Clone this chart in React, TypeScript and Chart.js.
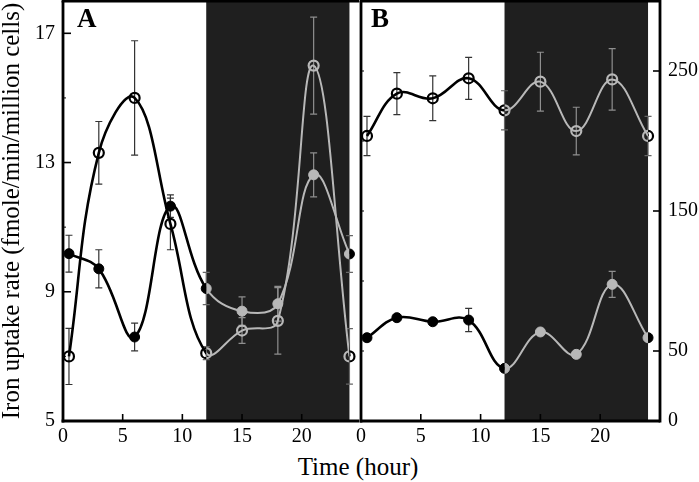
import React, { useEffect, useRef } from 'react';
import { Chart, registerables } from 'chart.js';

Chart.register(...registerables);

const HOURS = [0.5, 3, 6, 9, 12, 15, 18, 21, 24];
const A_OPEN = [7.0, 13.3, 15.0, 11.1, 7.1, 7.8, 8.1, 16.0, 7.0];
const A_OPEN_ERR = [0.87, 0.97, 1.77, 0.8, 0.2, 0.4, 1.03, 1.5, 0.86];
const A_FILLED = [10.18, 9.71, 7.6, 11.65, 9.1, 8.4, 8.63, 12.62, 10.17];
const A_FILLED_ERR = [0.57, 0.59, 0.43, 0.35, 0.5, 0.44, 0.54, 0.68, 0.57];
const B_OPEN = [203.6, 233.8, 230.5, 244.8, 221.9, 242.4, 207.1, 244.0, 203.6];
const B_OPEN_ERR = [14, 15, 16, 15, 14, 21, 17, 22, 14];
const B_FILLED = [59.5, 73.8, 70.9, 72.1, 37.6, 63.6, 47.6, 97.6, 59.5];
const B_FILLED_ERR = [2, 2, 2, 8.3, 2, 2, 2, 9.3, 2];
const X_TICKS = [0, 5, 10, 15, 20];
const A_Y_TICKS = [5, 9, 13, 17];
const A_Y_MINOR = [7, 11, 15];
const B_Y_TICKS = [0, 50, 150, 250];
const B_Y_MINOR = [50, 100, 150, 200, 250];
const DARK_START = 12;
const DARK_END = 24;

const FONT = 'Liberation Serif';
const GRAY = '#b8b8b8';

function makeSeries(values: number[], errs: number[], open: boolean) {
  const mk = () => HOURS.map((h, i) => ({ x: h, y: values[i] }));
  const common = {
    tension: 0.4,
    pointRadius: 5,
    pointHoverRadius: 5,
    clip: false,
    pointBorderWidth: open ? 2.2 : 1,
    fill: false,
  };
  return [
    {
      ...common,
      data: mk(),
      region: 'light',
      errors: errs,
      borderColor: '#000',
      borderWidth: 2.6,
      pointBorderColor: '#000',
      pointBackgroundColor: open ? 'rgba(0,0,0,0)' : '#000',
    },
    {
      ...common,
      data: mk(),
      region: 'dark',
      borderColor: GRAY,
      borderWidth: 2,
      pointBorderColor: GRAY,
      pointBackgroundColor: open ? 'rgba(0,0,0,0)' : GRAY,
    },
  ];
}

const backdropPlugin = {
  id: 'backdrop',
  beforeDatasetsDraw(chart: any) {
    const { ctx, chartArea: ca, scales } = chart;
    const x = scales.x;
    const y = scales.y;
    const x1 = x.getPixelForValue(DARK_START);
    const x2 = x.getPixelForValue(DARK_END);
    ctx.save();
    ctx.fillStyle = '#1f1f1f';
    ctx.fillRect(x1, ca.top, x2 - x1, ca.bottom - ca.top);
    chart.data.datasets.forEach((ds: any) => {
      if (!ds.errors) return;
      ds.data.forEach((pt: any, i: number) => {
        const e = ds.errors[i];
        const px = x.getPixelForValue(pt.x);
        const pt1 = y.getPixelForValue(pt.y + e);
        const pb = y.getPixelForValue(pt.y - e);
        const inDark = pt.x > DARK_START && pt.x < DARK_END;
        const edge = pt.x === DARK_START || pt.x === DARK_END;
        ctx.strokeStyle = inDark ? '#8f8f8f' : edge ? '#666' : '#333';
        ctx.lineWidth = 1.2;
        ctx.beginPath();
        ctx.moveTo(px, pt1);
        ctx.lineTo(px, pb);
        ctx.moveTo(px - 3.5, pt1);
        ctx.lineTo(px + 3.5, pt1);
        ctx.moveTo(px - 3.5, pb);
        ctx.lineTo(px + 3.5, pb);
        ctx.stroke();
      });
    });
    ctx.restore();
  },
};

const regionClipPlugin = {
  id: 'regionClip',
  beforeDatasetDraw(chart: any, args: any) {
    const ds = chart.data.datasets[args.index];
    const { ctx, chartArea: ca, scales } = chart;
    const x = scales.x;
    const x1 = x.getPixelForValue(DARK_START);
    const x2 = x.getPixelForValue(DARK_END);
    const t = ca.top - 12;
    const h = ca.bottom - ca.top + 24;
    ctx.save();
    ctx.beginPath();
    if (ds.region === 'dark') {
      ctx.rect(x1, t, x2 - x1, h);
    } else {
      ctx.rect(ca.left - 12, t, x1 - ca.left + 12, h);
      ctx.rect(x2, t, ca.right + 12 - x2, h);
    }
    ctx.clip();
  },
  afterDatasetDraw(chart: any) {
    chart.ctx.restore();
  },
};

function framePlugin(cfg: any) {
  return {
    id: 'frame',
    afterDatasetsDraw(chart: any) {
      const { ctx, chartArea: ca, scales } = chart;
      const x = scales.x;
      const y = scales.y;
      const line = (a: number, b: number, c: number, d: number) => {
        ctx.beginPath();
        ctx.moveTo(a, b);
        ctx.lineTo(c, d);
        ctx.stroke();
      };
      ctx.save();
      ctx.strokeStyle = '#000';
      ctx.lineWidth = 1.6;
      X_TICKS.forEach((v) => {
        const px = x.getPixelForValue(v);
        line(px, ca.bottom, px, ca.bottom - 7);
      });
      cfg.yMajor.forEach((v: number) => {
        const py = y.getPixelForValue(v);
        if (cfg.majorSide === 'left') line(ca.left, py, ca.left + 8, py);
        else line(ca.right, py, ca.right - 7, py);
      });
      ctx.lineWidth = 1;
      cfg.yMinor.forEach((v: number) => {
        const py = y.getPixelForValue(v);
        line(ca.left, py, ca.left + 3, py);
      });
      ctx.lineWidth = 2.8;
      line(ca.left, ca.top, ca.left, ca.bottom + 1.4);
      line(ca.left - 1.4, ca.bottom, ca.right, ca.bottom);
      line(ca.left - 1.4, ca.top, ca.right, ca.top);
      if (cfg.right) line(ca.right, ca.top - 1.4, ca.right, ca.bottom + 1.4);
      ctx.restore();
    },
  };
}

const tickFont = { family: FONT, size: 20 };

function xScale(max: number) {
  return {
    type: 'linear',
    min: 0,
    max,
    grid: { display: false, drawTicks: false },
    border: { display: false },
    afterBuildTicks: (s: any) => {
      s.ticks = X_TICKS.map((v) => ({ value: v }));
    },
    afterFit: (s: any) => {
      s.height = 29;
      s.paddingLeft = 0;
      s.paddingRight = 0;
    },
    ticks: { font: tickFont, color: '#000', padding: 4, maxRotation: 0, autoSkip: false },
  };
}

function yFit(width: number) {
  return (s: any) => {
    s.width = width;
    s.paddingTop = 0;
    s.paddingBottom = 0;
  };
}

export default function App() {
  const refA = useRef<HTMLCanvasElement | null>(null);
  const refB = useRef<HTMLCanvasElement | null>(null);

  useEffect(() => {
    const chartA = new Chart(refA.current as any, {
      type: 'line',
      data: {
        datasets: [...makeSeries(A_OPEN, A_OPEN_ERR, true), ...makeSeries(A_FILLED, A_FILLED_ERR, false)] as any,
      },
      options: {
        animation: false,
        responsive: true,
        maintainAspectRatio: false,
        events: [],
        layout: { autoPadding: false, padding: { top: 1, right: 1, left: 0, bottom: 0 } },
        plugins: { legend: { display: false }, tooltip: { enabled: false } },
        scales: {
          x: xScale(24.8) as any,
          y: {
            type: 'linear',
            min: 5,
            max: 18,
            grid: { display: false, drawTicks: false },
            border: { display: false },
            afterBuildTicks: (s: any) => {
              s.ticks = A_Y_TICKS.map((v) => ({ value: v }));
            },
            afterFit: yFit(63),
            ticks: { font: tickFont, color: '#000', padding: 8 },
            title: {
              display: true,
              text: 'Iron uptake rate (fmole/min/million cells)',
              font: { family: FONT, size: 25, lineHeight: 1 },
              color: '#000',
              padding: 0,
            },
          } as any,
        },
      },
      plugins: [backdropPlugin, regionClipPlugin, framePlugin({ yMajor: A_Y_TICKS, yMinor: A_Y_MINOR, majorSide: 'left', right: false })],
    } as any);

    const chartB = new Chart(refB.current as any, {
      type: 'line',
      data: {
        datasets: [...makeSeries(B_OPEN, B_OPEN_ERR, true), ...makeSeries(B_FILLED, B_FILLED_ERR, false)] as any,
      },
      options: {
        animation: false,
        responsive: true,
        maintainAspectRatio: false,
        events: [],
        layout: { autoPadding: false, padding: { top: 1, right: 0, left: 11, bottom: 0 } },
        plugins: { legend: { display: false }, tooltip: { enabled: false } },
        scales: {
          x: xScale(25) as any,
          y: {
            type: 'linear',
            position: 'right',
            min: 0,
            max: 300,
            grid: { display: false, drawTicks: false },
            border: { display: false },
            afterBuildTicks: (s: any) => {
              s.ticks = B_Y_TICKS.map((v) => ({ value: v }));
            },
            afterFit: yFit(39),
            ticks: { font: tickFont, color: '#000', padding: 8 },
          } as any,
        },
      },
      plugins: [backdropPlugin, regionClipPlugin, framePlugin({ yMajor: B_Y_TICKS, yMinor: B_Y_MINOR, majorSide: 'right', right: true })],
    } as any);

    return () => {
      chartA.destroy();
      chartB.destroy();
    };
  }, []);

  const label: React.CSSProperties = {
    position: 'absolute',
    fontFamily: `"${FONT}", serif`,
    fontWeight: 'bold',
    fontSize: 27,
    lineHeight: '27px',
    color: '#000',
  };

  return (
    <div style={{ position: 'fixed', left: 0, top: 0, width: 699, height: 482, background: '#fff' }}>
      <div style={{ position: 'absolute', left: 0, top: 0, width: 360, height: 450 }}>
        <canvas ref={refA} />
      </div>
      <div style={{ position: 'absolute', left: 350, top: 0, width: 349, height: 450 }}>
        <canvas ref={refB} />
      </div>
      <div style={{ ...label, left: 77, top: 5 }}>A</div>
      <div style={{ ...label, left: 371, top: 5 }}>B</div>
      <div
        style={{
          position: 'absolute',
          left: 258,
          top: 454,
          width: 200,
          textAlign: 'center',
          fontFamily: `"${FONT}", serif`,
          fontSize: 25,
          lineHeight: '25px',
          color: '#000',
        }}
      >
        Time (hour)
      </div>
    </div>
  );
}
